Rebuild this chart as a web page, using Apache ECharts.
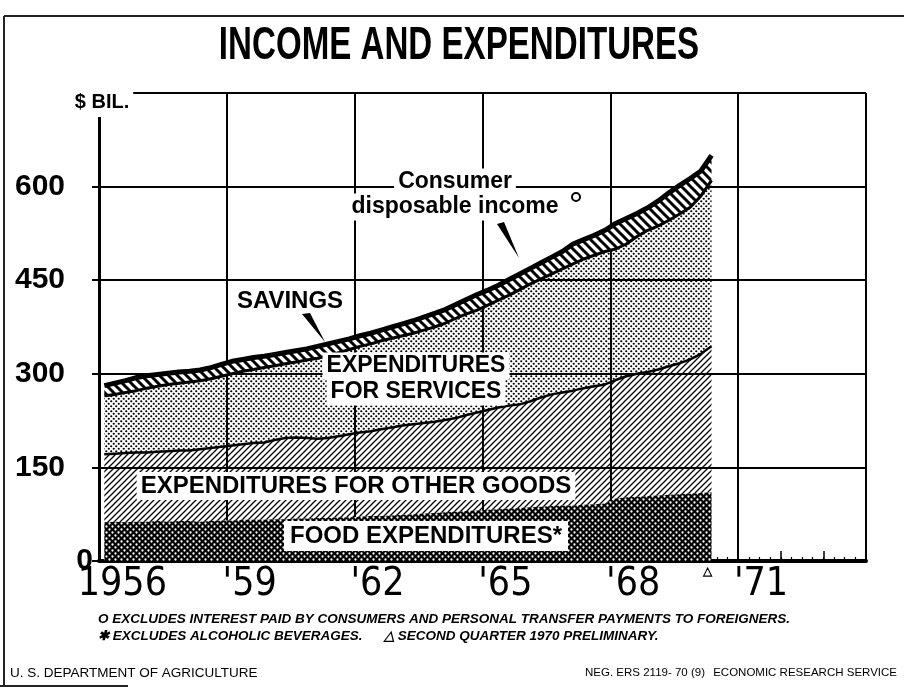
<!DOCTYPE html>
<html>
<head>
<meta charset="utf-8">
<title>Income and Expenditures</title>
<script src="https://cdn.jsdelivr.net/npm/echarts@6/dist/echarts.min.js"></script>
<style>
  html, body { margin: 0; padding: 0; background: #fff; }
  #chart { width: 904px; height: 689px; }
</style>
</head>
<body>
<div id="chart"></div>
<script>
// $ billion, quarterly, 1956 Q1 .. 1970 Q2 (levels)
const income = [
  281, 285, 289, 294,  297, 299, 301, 303,  304, 306, 310, 315,  320, 323, 326, 328,
  331, 334, 337, 340,  344, 348, 352, 356,  361, 365, 370, 375,  380, 385, 391, 397,
  403, 411, 419, 427,  434, 442, 451, 460,  469, 478, 487, 496,  508, 515, 522, 530,
  541, 549, 557, 566,  577, 590, 602, 613,  625, 650]
const expenditures = [
  265, 267, 270, 273,  277, 280, 283, 285,  287, 289, 292, 296,  300, 304, 307, 310,
  313, 316, 319, 322,  325, 329, 334, 339,  344, 348, 353, 357,  361, 365, 370, 375,
  381, 389, 396, 402,  410, 418, 426, 435,  444, 452, 460, 468,  476, 484, 490, 496,
  500, 508, 520, 530,  537, 546, 556, 567,  585, 610]
const foodAndGoods = [
  171, 172, 173, 174,  174, 175, 176, 177,  177, 179, 181, 183,  185, 187, 189, 190,
  194, 197, 198, 197,  196, 197, 200, 203,  206, 208, 211, 214,  217, 219, 221, 223,
  226, 229, 234, 238,  242, 246, 249, 251,  256, 262, 267, 270,  273, 277, 280, 283,
  290, 296, 300, 303,  307, 312, 317, 323,  332, 344]
const food = [
  62, 63, 62, 63,  63, 64, 63, 64,  64, 63, 64, 65,  65, 66, 66, 66,
  67, 67, 68, 68,  69, 69, 70, 70,  71, 72, 72, 73,  74, 75, 76, 77,
  78, 79, 80, 81,  82, 83, 84, 85,  86, 87, 88, 89,  89, 90, 91, 92,
  100, 102, 103, 104,  105, 106, 107, 108,  109, 110]

// quarters shown on the time scale, 1956 Q1 .. 1973 Q4
const quarters = []
for (let y = 1956; y <= 1973; y++) for (let q = 1; q <= 4; q++) quarters.push(y + 'Q' + q)

const BOLD = "'Liberation Sans', Arial, sans-serif"
const NARROW = "'Liberation Sans Narrow', 'DejaVu Sans Condensed', 'Roboto Condensed', 'Liberation Sans', sans-serif"

// fill patterns drawn on small canvases
function tile(w, h, draw) {
  const c = document.createElement('canvas')
  c.width = w; c.height = h
  draw(c.getContext('2d'))
  return { image: c, repeat: 'repeat' }
}
function dot(g, x, y, r) { g.beginPath(); g.arc(x, y, r, 0, Math.PI * 2); g.fill() }

const foodFill = tile(6, 6, g => {
  g.fillStyle = '#000'; g.fillRect(0, 0, 6, 6)
  g.fillStyle = '#fff'; dot(g, 1.5, 1.5, 1.15); dot(g, 4.5, 4.5, 1.15)
})
const goodsFill = tile(6, 6, g => {
  g.strokeStyle = '#000'; g.lineWidth = 1.3
  g.beginPath()
  g.moveTo(-1, 1); g.lineTo(1, -1)
  g.moveTo(0, 6); g.lineTo(6, 0)
  g.moveTo(5, 7); g.lineTo(7, 5)
  g.stroke()
})
const servicesFill = tile(5, 5, g => {
  g.fillStyle = '#000'; dot(g, 1.25, 1.25, 1.1); dot(g, 3.75, 3.75, 1.1)
})
const savingsFill = tile(9, 9, g => {
  g.fillStyle = '#fff'; g.fillRect(0, 0, 9, 9)
  g.strokeStyle = '#000'; g.lineWidth = 3
  g.beginPath()
  g.moveTo(0, 0); g.lineTo(9, 9)
  g.moveTo(-1, 8); g.lineTo(1, 10)
  g.moveTo(8, -1); g.lineTo(10, 1)
  g.stroke()
})

// stacked bands built from the levels
const layers = [
  { name: 'Food', vals: food, fill: foodFill, line: { opacity: 0 } },
  { name: 'Other goods', vals: food.map((v, i) => foodAndGoods[i] - v), fill: goodsFill, line: { color: '#000', width: 2.5 } },
  { name: 'Services', vals: expenditures.map((v, i) => v - foodAndGoods[i]), fill: servicesFill, line: { color: '#000', width: 3 } },
  { name: 'Savings', vals: income.map((v, i) => v - expenditures[i]), fill: savingsFill, line: { color: '#000', width: 5 } },
]

const chart = echarts.init(document.getElementById('chart'), null, { renderer: 'canvas' })

const label = (text, x, y, size, pad) => ({
  type: 'text', z: 100, x, y,
  style: { text, font: `bold ${size}px ${BOLD}`, fill: '#000', align: 'center', verticalAlign: 'middle',
    backgroundColor: '#fff', padding: pad || [2, 4] }
})
const note = (text, x, y, font, align) => ({
  type: 'text', z: 100, x, y,
  style: { text, font, fill: '#000', align: align || 'left', verticalAlign: 'middle' }
})

chart.setOption({
  animation: false,
  grid: { left: 99, right: 38, top: 93, bottom: 128 },
  xAxis: [{
    type: 'value', min: 1956, max: 1974, interval: 3,
    axisLine: { show: true, onZero: false, lineStyle: { color: '#000', width: 4 } },
    axisTick: { show: true, inside: true, length: 10, lineStyle: { color: '#000', width: 1.5 } },
    minorTick: { show: true, splitNumber: 12, length: 4, lineStyle: { color: '#000', width: 1.2 } },
    splitLine: { show: true, lineStyle: { color: '#000', width: 2 } },
    axisLabel: {
      margin: 4, align: 'center',
      formatter: v => v === 1974 ? '' : v === 1956 ? '{a|1956}' : "{b|'" + String(v).slice(2) + '}',
      rich: {
        a: { width: 136, align: 'right', fontSize: 39, fontFamily: NARROW, color: '#000' },
        b: { width: 100, align: 'right', fontSize: 39, fontFamily: NARROW, color: '#000' },
      },
    },
  }, {
    type: 'value', min: 1956, max: 1974, interval: 1, position: 'bottom',
    axisLine: { show: false }, splitLine: { show: false }, axisLabel: { show: false },
    axisTick: { show: true, inside: true, length: 10, lineStyle: { color: '#000', width: 1.5 } },
  }, {
    type: 'category', data: quarters, boundaryGap: true, show: false,
  }],
  yAxis: {
    type: 'value', min: 0, max: 750, interval: 150,
    axisLine: { show: true, lineStyle: { color: '#000', width: 3 } },
    axisTick: { show: true, length: 7, lineStyle: { color: '#000', width: 2 } },
    splitLine: { show: true, lineStyle: { color: '#000', width: 2 } },
    axisLabel: {
      margin: 6,
      formatter: v => v === 750 ? '' : v === 0 ? '{z|0}' : '{n|' + v + '}',
      rich: {
        z: { fontSize: 30, fontWeight: 'bold', fontFamily: BOLD, color: '#000' },
        n: { fontSize: 30, fontWeight: 'bold', fontFamily: BOLD, color: '#000', padding: [0, 28, 0, 0] },
      },
    },
  },
  series: layers.map(l => ({
    name: l.name, type: 'line', stack: 'total', symbol: 'none', xAxisIndex: 2,
    data: l.vals,
    lineStyle: l.line,
    areaStyle: { color: l.fill, opacity: 1 },
  })),
  graphic: [
    // page frame
    { type: 'line', z: 100, shape: { x1: 4, y1: 16, x2: 904, y2: 16 }, style: { stroke: '#222', lineWidth: 2 } },
    { type: 'line', z: 100, shape: { x1: 4, y1: 16, x2: 4, y2: 686 }, style: { stroke: '#222', lineWidth: 2 } },
    { type: 'line', z: 100, shape: { x1: 0, y1: 686, x2: 128, y2: 686 }, style: { stroke: '#222', lineWidth: 2 } },
    {
      type: 'text', z: 100, x: 459, y: 46, scaleX: 0.72,
      style: { text: 'INCOME AND EXPENDITURES', font: `bold 46px ${BOLD}`, fill: '#000', align: 'center', verticalAlign: 'middle' }
    },
    {
      type: 'text', z: 100, x: 102, y: 102,
      style: { text: '$ BIL.', font: `bold 20px ${BOLD}`, fill: '#000', align: 'center', verticalAlign: 'middle',
        backgroundColor: '#fff', padding: [5, 4] }
    },
    label('Consumer', 455, 182, 23),
    label('disposable income', 455, 207, 23),
    { type: 'circle', z: 101, shape: { cx: 576, cy: 197, r: 4 }, style: { fill: '#fff', stroke: '#000', lineWidth: 2 } },
    { type: 'polygon', z: 101, shape: { points: [[497, 224], [504, 222], [519, 258]] }, style: { fill: '#000' } },
    label('SAVINGS', 290, 301, 24),
    { type: 'polygon', z: 101, shape: { points: [[302, 314], [310, 313], [325, 342]] }, style: { fill: '#000' } },
    label('EXPENDITURES', 416, 366, 23),
    label('FOR SERVICES', 416, 392, 23),
    label('EXPENDITURES FOR OTHER GOODS', 356, 486, 24),
    label('FOOD EXPENDITURES*', 426, 536, 24, [3, 6]),
    note('\u25B3', 707, 572, `bold 12px ${BOLD}`, 'center'),
    note('O EXCLUDES INTEREST PAID BY CONSUMERS AND PERSONAL TRANSFER PAYMENTS TO FOREIGNERS.', 98, 619, `italic bold 13.5px ${BOLD}`),
    note('\u2731 EXCLUDES ALCOHOLIC BEVERAGES.', 98, 636, `italic bold 13.5px ${BOLD}`),
    note('\u25B3 SECOND QUARTER 1970 PRELIMINARY.', 384, 636, `italic bold 13.5px ${BOLD}`),
    note('U. S. DEPARTMENT OF AGRICULTURE', 10, 673, `13.5px ${BOLD}`),
    note('NEG. ERS 2119- 70 (9)', 705, 673, `11.5px ${BOLD}`, 'right'),
    note('ECONOMIC RESEARCH SERVICE', 897, 673, `11.5px ${BOLD}`, 'right'),
  ],
})
</script>
</body>
</html>
